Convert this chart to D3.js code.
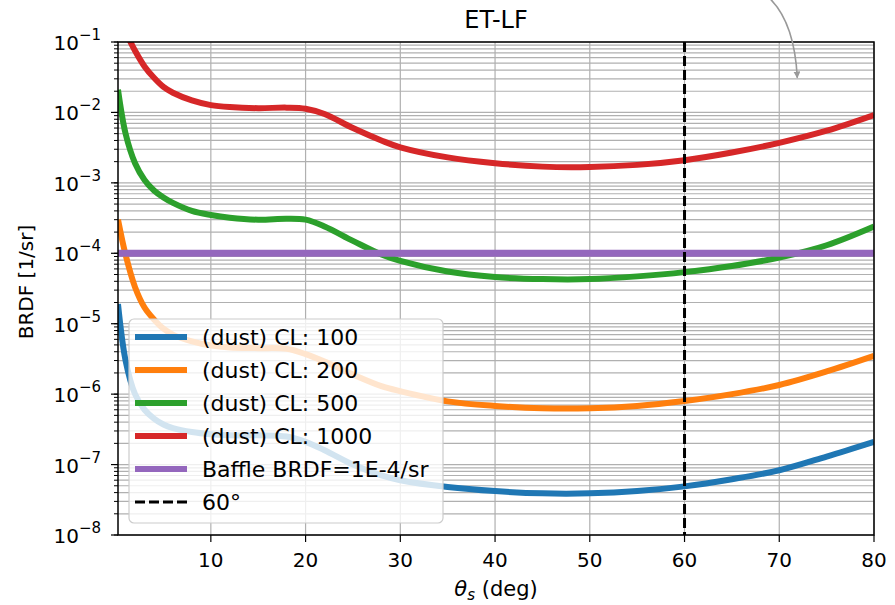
<!DOCTYPE html>
<html><head><meta charset="utf-8">
<script src="https://cdn.jsdelivr.net/npm/d3@7"></script>
<style>body{margin:0;background:#fff}svg{display:block;font-family:"DejaVu Sans",sans-serif}</style>
</head><body>
<script>
const theta = [0.2,1,2,3,4,5,6,8,10,12,15,18,20,22,25,28,30,35,40,45,50,55,60,65,70,75,80];
const cl100 = [1.9e-5,3e-6,1e-6,6e-7,4.5e-7,3.7e-7,3.3e-7,2.9e-7,2.7e-7,2.6e-7,2.6e-7,2.5e-7,2.1e-7,1.6e-7,1.0e-7,7e-8,6e-8,4.8e-8,4.2e-8,3.9e-8,3.9e-8,4.2e-8,4.9e-8,6.2e-8,8.3e-8,1.3e-7,2.1e-7];
const cl200 = [3e-4,9.5e-5,3.3e-5,1.7e-5,1.15e-5,8.5e-6,7e-6,5.6e-6,4.9e-6,4.6e-6,4.5e-6,4.4e-6,3.7e-6,2.9e-6,1.9e-6,1.3e-6,1.1e-6,7.9e-7,6.8e-7,6.3e-7,6.3e-7,6.8e-7,8e-7,1.0e-6,1.35e-6,2.1e-6,3.5e-6];
const cl500 = [0.021,0.005,0.0019,0.0011,0.00078,0.00062,0.00052,0.0004,0.00035,0.00032,0.0003,0.00031,0.0003,0.00024,0.00015,0.000096,0.000078,0.000055,0.000046,0.000043,0.000043,0.000047,0.000054,0.000066,0.000087,0.00013,0.00024];
const cl1000 = [0.25,0.14,0.075,0.045,0.031,0.023,0.019,0.0148,0.0127,0.0119,0.0115,0.0117,0.0113,0.0095,0.006,0.004,0.0032,0.0023,0.0019,0.0017,0.00168,0.0018,0.0021,0.0027,0.0037,0.0055,0.0092];
const baffle = 1e-4;
const angle60 = 60;
const seriesNames = ["(dust) CL: 100","(dust) CL: 200","(dust) CL: 500","(dust) CL: 1000"];
const seriesColors = ["#1f77b4","#ff7f0e","#2ca02c","#d62728"];
const xTicks = [10,20,30,40,50,60,70,80];
const yExponents = [-1,-2,-3,-4,-5,-6,-7,-8];
const arrowPts = [[68.8,0.44],[71.6,0.2],[71.9,0.031]];

const W=895,H=605;
const L=118,R=874,T=42,B=535;
const svg=d3.select("body").append("svg").attr("width",W).attr("height",H);
const x=d3.scaleLinear().domain([0.2,80]).range([L,R]);
const y=d3.scaleLog().domain([1e-8,1e-1]).range([B,T]);

// grid
const minor=[];
for(let e=-8;e<-1;e++){for(let m=1;m<10;m++){minor.push(m*Math.pow(10,e));}}
minor.push(1e-1);
const g=svg.append("g");
g.selectAll("line.hy").data(minor).join("line")
 .attr("x1",L).attr("x2",R).attr("y1",d=>y(d)).attr("y2",d=>y(d))
 .attr("stroke","#b0b0b0").attr("stroke-width",1.2);
g.selectAll("line.vx").data(xTicks).join("line")
 .attr("x1",d=>x(d)).attr("x2",d=>x(d)).attr("y1",T).attr("y2",B)
 .attr("stroke","#b0b0b0").attr("stroke-width",1.2);

svg.append("clipPath").attr("id","clip").append("rect").attr("x",L).attr("y",T).attr("width",R-L).attr("height",B-T);
const plot=svg.append("g").attr("clip-path","url(#clip)");
const line=d3.line().x(d=>x(d[0])).y(d=>y(d[1])).curve(d3.curveCatmullRom.alpha(0.5));
const allSeries=[cl100,cl200,cl500,cl1000];
allSeries.forEach((s,i)=>{
  plot.append("path").datum(theta.map((t,j)=>[t,s[j]]))
   .attr("d",line).attr("fill","none").attr("stroke",seriesColors[i]).attr("stroke-width",6)
   .attr("stroke-linejoin","round");
});
plot.append("line").attr("x1",x(0.2)).attr("x2",x(80)).attr("y1",y(baffle)).attr("y2",y(baffle))
 .attr("stroke","#9467bd").attr("stroke-width",7);
plot.append("line").attr("x1",x(angle60)).attr("x2",x(angle60)).attr("y1",T).attr("y2",B)
 .attr("stroke","#000").attr("stroke-width",3).attr("stroke-dasharray","10,4");

// frame
svg.append("rect").attr("x",L).attr("y",T).attr("width",R-L).attr("height",B-T)
 .attr("fill","none").attr("stroke","#000").attr("stroke-width",1.5);

// x axis ticks
const xa=svg.append("g");
xa.selectAll("line").data(xTicks).join("line")
 .attr("x1",d=>x(d)).attr("x2",d=>x(d)).attr("y1",B).attr("y2",B+7).attr("stroke","#000").attr("stroke-width",1.2);
xa.selectAll("text").data(xTicks).join("text")
 .attr("x",d=>x(d)).attr("y",567).attr("text-anchor","middle").attr("font-size",20).text(d=>d);

// y axis ticks
const ya=svg.append("g");
ya.selectAll("line.mi").data(minor).join("line")
 .attr("x1",L-4).attr("x2",L).attr("y1",d=>y(d)).attr("y2",d=>y(d)).attr("stroke","#000").attr("stroke-width",1);
ya.selectAll("line.ma").data(yExponents).join("line")
 .attr("x1",L-7).attr("x2",L).attr("y1",d=>y(Math.pow(10,d))).attr("y2",d=>y(Math.pow(10,d))).attr("stroke","#000").attr("stroke-width",1.2);
const yt=ya.selectAll("text").data(yExponents).join("text")
 .attr("x",101).attr("y",d=>y(Math.pow(10,d))+8).attr("text-anchor","end").attr("font-size",20);
yt.append("tspan").text("10");
yt.append("tspan").attr("dy",-10).attr("font-size",15).text(d=>"\u2212"+Math.abs(d));

// labels
svg.append("text").attr("x",(L+R)/2).attr("y",28).attr("text-anchor","middle").attr("font-size",24).text("ET-LF");
const xl=svg.append("text").attr("x",(L+R)/2).attr("y",596).attr("text-anchor","middle").attr("font-size",21);
xl.append("tspan").attr("font-style","italic").text("θ");
xl.append("tspan").attr("font-style","italic").attr("font-size",15).attr("dy",4).text("s");
xl.append("tspan").attr("dy",-4).text(" (deg)");
svg.append("text").attr("transform","translate(33,282) rotate(-90)").attr("text-anchor","middle").attr("font-size",20).text("BRDF [1/sr]");

// legend
const lg=svg.append("g");
lg.append("rect").attr("x",129).attr("y",319).attr("width",314).attr("height",204).attr("rx",5)
 .attr("fill","#fff").attr("fill-opacity",0.8).attr("stroke","#cccccc").attr("stroke-width",1.2);
const items=seriesNames.map((n,i)=>({name:n,color:seriesColors[i],w:6,dash:null}))
 .concat([{name:"Baffle BRDF=1E-4/sr",color:"#9467bd",w:6,dash:null},{name:"60°",color:"#000",w:3,dash:"10,4"}]);
items.forEach((it,i)=>{
  const yy=337+i*33;
  lg.append("line").attr("x1",135).attr("x2",187).attr("y1",yy).attr("y2",yy)
   .attr("stroke",it.color).attr("stroke-width",it.w).attr("stroke-dasharray",it.dash);
  lg.append("text").attr("x",202).attr("y",yy+8).attr("font-size",22).text(it.name);
});

// arrow annotation
const defs=svg.append("defs");
defs.append("marker").attr("id","ah").attr("viewBox","0 0 10 10").attr("refX",9).attr("refY",5)
 .attr("markerWidth",7).attr("markerHeight",7).attr("markerUnits","userSpaceOnUse").attr("orient","auto")
 .append("path").attr("d","M0,0 L10,5 L0,10 z").attr("fill","#999");
const ap=arrowPts.map(p=>[x(p[0]),y(p[1])]);
svg.append("path").attr("d",`M${ap[0][0]},${ap[0][1]} Q${ap[1][0]},${ap[1][1]} ${ap[2][0]},${ap[2][1]}`)
 .attr("fill","none").attr("stroke","#999").attr("stroke-width",1.6).attr("marker-end","url(#ah)");
</script>
</body></html>
